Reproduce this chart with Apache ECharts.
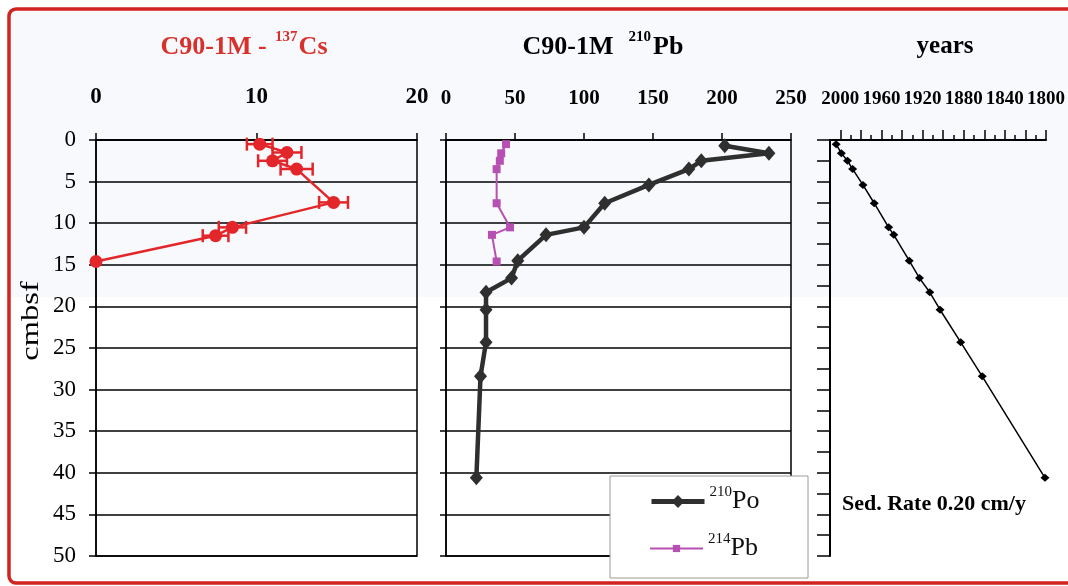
<!DOCTYPE html>
<html>
<head>
<meta charset="utf-8">
<script src="https://cdn.jsdelivr.net/npm/echarts@6/dist/echarts.min.js"></script>
<style>
html,body{margin:0;padding:0;background:#fff;}
#chart{width:1068px;height:586px;}
</style>
</head>
<body>
<div id="chart"></div>
<script>
// ---- data ----
const csDepth = [0.5, 1.5, 2.5, 3.5, 7.5, 10.5, 11.5, 14.6];
const csValue = [10.2, 11.9, 11.0, 12.5, 14.8, 8.5, 7.45, 0];
const csError = [0.8, 0.9, 0.9, 1.0, 0.9, 0.85, 0.8, 0];

const poDepth = [0.7, 1.6, 2.5, 3.5, 5.4, 7.6, 10.5, 11.4, 14.5, 16.6, 18.3, 20.4, 24.3, 28.4, 40.6];
const poValue = [202, 234, 185, 176, 147, 115, 100, 72.5, 52, 47.5, 29, 29, 29, 25, 22];

const pbDepth = [0.5, 1.6, 2.5, 3.5, 7.6, 10.5, 11.4, 14.6];
const pbValue = [43.5, 40, 39, 36.7, 36.7, 46.4, 33.3, 36.7];

const ageDepth = [0.5, 1.6, 2.5, 3.5, 5.4, 7.6, 10.5, 11.4, 14.5, 16.6, 18.3, 20.4, 24.3, 28.4, 40.6];
const ageYear = [2004, 1999, 1993, 1988, 1978, 1967, 1953, 1948, 1933, 1923, 1913, 1903, 1883, 1862, 1801];

const seriesNames = ['210Po', '214Pb'];
const yearTickValues = [1800, 1820, 1840, 1860, 1880, 1900, 1920, 1940, 1960, 1980, 2000];

// ---- styling ----
const FONT = "'Liberation Serif','Times New Roman',serif";
const RED = '#e3262a';
const TITLE_RED = '#d8302a';
const PO = '#2f2f2f';
const PB = '#b850b4';

const axisLineStyle = { color: '#000', width: 1.5 };

function topAxis(grid, min, max, interval, fontSize, extra) {
  return Object.assign({
    gridIndex: grid, type: 'value', position: 'top', min: min, max: max, interval: interval,
    axisLine: { show: true, lineStyle: axisLineStyle },
    axisTick: { show: true, length: 7, lineStyle: axisLineStyle },
    axisLabel: { fontFamily: FONT, fontSize: fontSize, fontWeight: 'bold', color: '#000', margin: 31 },
    splitLine: { show: false }
  }, extra || {});
}
function depthAxis(grid, showLabel, split, interval, tickLen) {
  return {
    gridIndex: grid, type: 'value', min: 0, max: 50, interval: interval, inverse: true,
    axisLine: { show: true, lineStyle: axisLineStyle },
    axisTick: { show: true, length: tickLen, lineStyle: axisLineStyle },
    axisLabel: { show: showLabel, fontFamily: FONT, fontSize: 23, color: '#000', margin: 20 },
    splitLine: { show: split, lineStyle: { color: '#000', width: 1.5 } }
  };
}
function legendFor(name, top, itemHeight, lineWidth) {
  return {
    left: 649, top: top, orient: 'vertical', padding: 0, z: 10,
    itemWidth: 53, itemHeight: itemHeight,
    lineStyle: { width: lineWidth },
    data: [name],
    formatter: function (n) { return '{s|' + n.slice(0, 3) + '}{m|' + n.slice(3) + '}'; },
    textStyle: {
      rich: {
        s: { fontSize: 15, fontFamily: FONT, color: '#111', padding: [0, 0, 18, 0] },
        m: { fontSize: 26, fontFamily: FONT, color: '#111' }
      }
    }
  };
}

const chart = echarts.init(document.getElementById('chart'), null, { renderer: 'canvas' });

const option = {
  animation: false,
  backgroundColor: '#ffffff',
  graphic: [
    { type: 'rect', z: -10, silent: true, shape: { x: 9, y: 9, width: 1070, height: 288 }, style: { fill: '#f8f9fd' } },
    { type: 'rect', z: 100, silent: true, shape: { x: 9, y: 9, width: 1080, height: 574, r: 7 }, style: { fill: 'none', stroke: '#d1231f', lineWidth: 3.5 } },
    { type: 'rect', z: 5, silent: true, shape: { x: 610, y: 476, width: 198, height: 102 }, style: { fill: '#ffffff', stroke: '#9a9a9a', lineWidth: 1 } },
    { type: 'text', z: 20, x: 244, y: 47, style: {
        text: '{m|C90-1M - }{s|137}{m|Cs}', align: 'center', verticalAlign: 'middle',
        rich: {
          m: { fontSize: 26, fontWeight: 'bold', fontFamily: FONT, fill: TITLE_RED },
          s: { fontSize: 15, fontWeight: 'bold', fontFamily: FONT, fill: TITLE_RED, padding: [0, 1, 19, 2] }
        } } },
    { type: 'text', z: 20, x: 603, y: 47, style: {
        text: '{m|C90-1M  }{s|210}{m|Pb}', align: 'center', verticalAlign: 'middle',
        rich: {
          m: { fontSize: 26, fontWeight: 'bold', fontFamily: FONT, fill: '#000' },
          s: { fontSize: 15, fontWeight: 'bold', fontFamily: FONT, fill: '#000', padding: [0, 2, 19, 2] }
        } } },
    { type: 'text', z: 20, x: 945, y: 47, style: { text: 'years', align: 'center', verticalAlign: 'middle', fontSize: 25, fontWeight: 'bold', fontFamily: FONT, fill: '#000' } },
    { type: 'text', z: 20, x: 31, y: 321, rotation: Math.PI / 2, scaleX: 1.25, style: { text: 'cmbsf', align: 'center', verticalAlign: 'middle', fontSize: 26, fontFamily: FONT, fill: '#000' } },
    { type: 'text', z: 20, x: 842, y: 504, style: { text: 'Sed. Rate 0.20 cm/y', align: 'left', verticalAlign: 'middle', fontSize: 22, fontWeight: 'bold', fontFamily: FONT, fill: '#000' } }
  ],
  legend: [
    legendFor(seriesNames[0], 485, 16, 5),
    legendFor(seriesNames[1], 532, 9, 2)
  ],
  grid: [
    { left: 96, top: 140, width: 321, height: 416, show: true, borderColor: '#000', borderWidth: 1.5, backgroundColor: 'transparent' },
    { left: 446, top: 140, width: 345, height: 416, show: true, borderColor: '#000', borderWidth: 1.5, backgroundColor: 'transparent' },
    { left: 830, top: 140, width: 223, height: 416 }
  ],
  xAxis: [
    topAxis(0, 0, 20, 10, 23),
    topAxis(1, 0, 250, 50, 21),
    topAxis(2, 1800, 2010, 20, 19, {
      inverse: true,
      axisLine: { show: true, lineStyle: { color: '#000', width: 2 } },
      axisTick: { show: true, length: 10, customValues: yearTickValues, lineStyle: { color: '#000', width: 1.5 } },
      minorTick: { show: true, splitNumber: 2, length: 5, lineStyle: { color: '#000', width: 1.5 } },
      axisLabel: {
        fontFamily: FONT, fontSize: 19, fontWeight: 'bold', color: '#000', margin: 31,
        formatter: function (v) { return (v % 40 === 0 && v <= 2000) ? String(v) : ''; }
      }
    })
  ],
  yAxis: [
    depthAxis(0, true, true, 5, 7),
    depthAxis(1, false, true, 5, 6),
    Object.assign(depthAxis(2, false, false, 2.5, 13), { axisLine: { show: true, lineStyle: { color: '#000', width: 2 } } })
  ],
  series: [
    {
      type: 'custom', xAxisIndex: 0, yAxisIndex: 0, z: 3, silent: true,
      encode: { x: 0, y: 1 },
      data: csValue.map(function (v, i) { return [v, csDepth[i], csError[i]]; }),
      renderItem: function (params, api) {
        const v = api.value(0), d = api.value(1), e = api.value(2);
        if (!e) return { type: 'group', children: [] };
        const a = api.coord([v - e, d]), b = api.coord([v + e, d]);
        const h = 6.5;
        const st = { stroke: RED, lineWidth: 2.5 };
        return { type: 'group', children: [
          { type: 'line', shape: { x1: a[0], y1: a[1], x2: b[0], y2: b[1] }, style: st },
          { type: 'line', shape: { x1: a[0], y1: a[1] - h, x2: a[0], y2: a[1] + h }, style: st },
          { type: 'line', shape: { x1: b[0], y1: b[1] - h, x2: b[0], y2: b[1] + h }, style: st }
        ] };
      }
    },
    {
      name: 'Cs137', type: 'line', xAxisIndex: 0, yAxisIndex: 0, z: 4,
      data: csValue.map(function (v, i) { return [v, csDepth[i]]; }),
      symbol: 'circle', symbolSize: 13,
      lineStyle: { color: RED, width: 2.5 }, itemStyle: { color: RED }
    },
    {
      name: seriesNames[0], type: 'line', xAxisIndex: 1, yAxisIndex: 1, z: 4,
      data: poValue.map(function (v, i) { return [v, poDepth[i]]; }),
      symbol: 'diamond', symbolSize: [13, 15],
      lineStyle: { color: PO, width: 4.5 }, itemStyle: { color: PO }
    },
    {
      name: seriesNames[1], type: 'line', xAxisIndex: 1, yAxisIndex: 1, z: 3,
      data: pbValue.map(function (v, i) { return [v, pbDepth[i]]; }),
      symbol: 'rect', symbolSize: 8,
      lineStyle: { color: PB, width: 2 }, itemStyle: { color: PB }
    },
    {
      name: 'age', type: 'line', xAxisIndex: 2, yAxisIndex: 2, z: 4,
      data: ageYear.map(function (v, i) { return [v, ageDepth[i]]; }),
      symbol: 'diamond', symbolSize: [9, 8],
      lineStyle: { color: '#000', width: 1.5 }, itemStyle: { color: '#000' }
    }
  ]
};
chart.setOption(option);
</script>
</body>
</html>
